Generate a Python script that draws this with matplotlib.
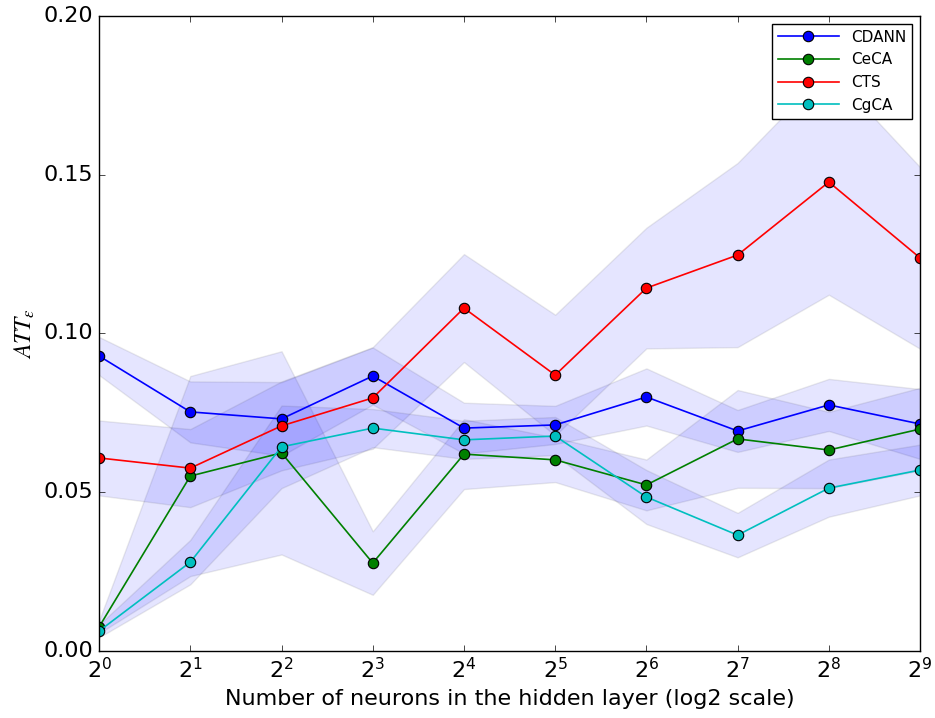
import matplotlib
matplotlib.use("Agg")
import matplotlib.pyplot as plt
import numpy as np

plt.style.use("classic")
plt.rcParams["mathtext.fontset"] = "stix"

# Hidden layer sizes (powers of two)
neurons = [1, 2, 4, 8, 16, 32, 64, 128, 256, 512]

# Mean ATT error per method
cdann_mean = [0.0929, 0.0753, 0.0731, 0.0866, 0.0702, 0.0712, 0.0800, 0.0693, 0.0775, 0.0715]
ceca_mean = [0.0076, 0.0551, 0.0624, 0.0277, 0.0620, 0.0602, 0.0523, 0.0668, 0.0633, 0.0699]
cts_mean = [0.0608, 0.0576, 0.0709, 0.0797, 0.1080, 0.0869, 0.1143, 0.1247, 0.1477, 0.1238]
cgca_mean = [0.0063, 0.0280, 0.0643, 0.0702, 0.0665, 0.0677, 0.0485, 0.0365, 0.0513, 0.0570]

# Standard deviations (shaded bands)
cdann_std = [0.0060, 0.0096, 0.0116, 0.0090, 0.0080, 0.0060, 0.0090, 0.0066, 0.0082, 0.0110]
ceca_std = [0.0020, 0.0315, 0.0320, 0.0100, 0.0110, 0.0070, 0.0080, 0.0154, 0.0120, 0.0130]
cts_std = [0.0118, 0.0123, 0.0140, 0.0160, 0.0170, 0.0190, 0.0190, 0.0290, 0.0355, 0.0286]
cgca_std = [0.0020, 0.0070, 0.0130, 0.0060, 0.0060, 0.0060, 0.0085, 0.0070, 0.0090, 0.0080]

series = [
    ("CDANN", cdann_mean, cdann_std, "b"),
    ("CeCA", ceca_mean, ceca_std, "g"),
    ("CTS", cts_mean, cts_std, "r"),
    ("CgCA", cgca_mean, cgca_std, "c"),
]

fig = plt.figure(figsize=(9.35, 7.18), dpi=100, facecolor="white")
ax = fig.add_axes([0.106, 0.0933, 0.878, 0.8845])
ax.set_facecolor("white")

for name, mean, std, color in series:
    m = np.array(mean)
    s = np.array(std)
    ax.fill_between(neurons, m - s, m + s, facecolor="b", edgecolor="0.2",
                    alpha=0.1, linewidth=1.0)

for name, mean, std, color in series:
    ax.plot(neurons, mean, "-o", color=color, label=name, linewidth=1.2,
            markersize=7.5, markeredgecolor="k", markeredgewidth=0.8)

ax.set_xscale("log", base=2)
ax.set_xlim(1, 512)
ax.set_ylim(0, 0.20)
ax.set_yticks([0.0, 0.05, 0.10, 0.15, 0.20])
ax.set_yticklabels(["0.00", "0.05", "0.10", "0.15", "0.20"])
ax.tick_params(labelsize=16)
ax.set_xlabel("Number of neurons in the hidden layer (log2 scale)", fontsize=16)
ax.set_ylabel(r"$ATT_{\varepsilon}$", fontsize=17)

ax.legend(loc="upper right", numpoints=1, fontsize=11, framealpha=1.0,
          handlelength=4.0, handletextpad=0.8, borderaxespad=0.5)

fig.savefig("out.png", dpi=100, facecolor="white")
